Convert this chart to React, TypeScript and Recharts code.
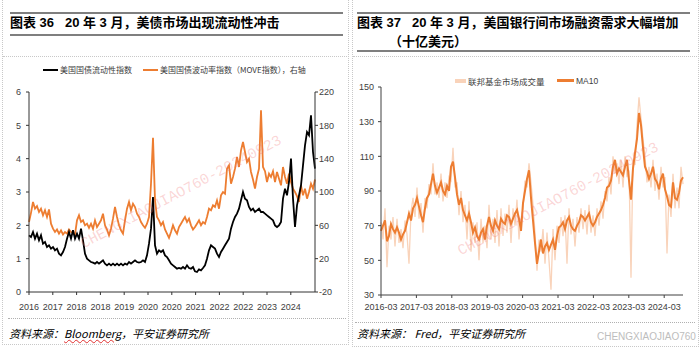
import { LineChart, Line, XAxis, YAxis } from 'recharts'

// 图表36：美国国债流动性指数（左轴）与 MOVE 指数（右轴）
const LIQ = [
  1.7, 1.65, 1.8, 1.6, 1.75, 1.55, 1.7, 1.45, 1.5, 1.35,
  1.4, 1.3, 1.35, 1.25, 1.3, 1.15, 1.1, 1.2, 1.35, 1.6,
  1.8, 1.6, 1.85, 1.6, 1.75, 1.6, 1.9, 1.55, 1.15, 1.0,
  0.95, 0.9, 0.88, 0.85, 0.9, 0.85, 0.9, 0.95, 0.85, 0.8,
  0.85, 0.8, 0.85, 0.8, 0.85, 0.8, 0.85, 0.8, 0.85, 0.82,
  0.9, 0.85, 0.9, 0.95, 0.9, 0.88, 0.9, 0.95, 0.9, 1.1,
  1.45, 1.9, 2.85, 1.4, 1.15, 1.25, 1.2, 1.25, 1.1, 1.05,
  0.95, 0.85, 0.8, 0.75, 0.7, 0.72, 0.7, 0.75, 0.7, 0.8,
  0.72, 0.7, 0.75, 0.62, 0.6, 0.68, 0.65, 0.72, 0.8, 1.0,
  1.25, 1.4, 1.35, 1.3, 1.15, 1.05, 1.2, 1.3, 1.4, 1.5,
  1.6, 1.9, 2.1, 2.25, 2.35, 2.5, 2.75, 3.0, 2.8, 2.75,
  2.55, 2.45, 2.5, 2.4, 2.45, 2.5, 2.4, 2.4, 2.35, 2.3,
  2.25, 2.2, 2.15, 2.0, 1.95, 2.0, 2.1, 2.8, 3.1, 2.9,
  3.3, 4.0, 2.8, 1.95, 2.6, 2.9, 3.2, 3.8, 4.4, 4.8,
  4.7, 5.3, 4.2, 3.7,
]
const MOVE = [
  64, 75, 88, 80, 83, 76, 80, 72, 78, 70,
  79, 62, 56, 52, 55, 50, 54, 49, 52, 50,
  55, 52, 51, 49, 66, 72, 64, 66, 60, 62,
  57, 62, 56, 66, 58, 62, 66, 74, 60, 55,
  48, 56, 68, 82, 70, 60, 54, 50, 66, 80,
  88, 78, 86, 82, 74, 70, 64, 60, 57, 62,
  70, 110, 165, 90, 70, 66, 60, 64, 55, 50,
  45, 52, 60, 54, 50, 58, 62, 66, 70, 64,
  68, 60, 55, 58, 62, 66, 60, 64, 62, 70,
  80, 78, 84, 82, 90, 80, 96, 100, 98, 128,
  132, 110, 118, 128, 142, 130, 150, 160, 148, 136,
  140, 124, 115, 104, 118, 128, 198, 130, 125, 112,
  122, 118, 125, 112, 124, 116, 108, 130, 118, 110,
  122, 112, 104, 100, 95, 88, 108, 96, 104, 92,
  100, 110, 104, 115,
]
const LEFT_TICK_LABELS = ['2016', '2017', '2018', '2018', '2019', '2020', '2020', '2021', '2022', '2022', '2023', '2024']
const LEFT_TICK_STEP = 11.9

// 图表37：联邦基金市场成交量（十亿美元）及 MA10
const FF_VOLUME = [
  72, 62, 80, 46, 70, 62, 75, 58, 74, 60,
  68, 57, 73, 65, 48, 78, 86, 75, 92, 74,
  83, 66, 86, 80, 94, 88, 106, 88, 95, 86,
  100, 84, 95, 86, 98, 96, 115, 92, 95, 76,
  90, 72, 82, 62, 84, 55, 72, 60, 72, 50,
  74, 60, 70, 57, 82, 62, 74, 60, 79, 58,
  80, 64, 77, 66, 82, 60, 80, 70, 85, 62,
  74, 80, 96, 92, 106, 95, 82, 66, 44, 62,
  55, 68, 48, 66, 50, 33, 68, 50, 70, 60,
  75, 64, 76, 48, 80, 65, 74, 58, 75, 66,
  80, 68, 79, 65, 82, 66, 76, 64, 80, 70,
  84, 74, 90, 84, 98, 88, 110, 100, 106, 94,
  108, 92, 110, 98, 102, 40, 108, 105, 128, 144,
  132, 120, 110, 95, 104, 92, 108, 90, 100, 85,
  104, 92, 98, 54, 88, 75, 100, 80, 92, 80,
  104, 94,
]
const FF_MA10 = [
  67, 70, 73, 61, 64, 71, 68, 66, 69, 66,
  62, 65, 67, 72, 77, 73, 80, 82, 86, 81,
  76, 72, 80, 86, 88, 94, 100, 93, 89, 92,
  95, 90, 88, 93, 90, 104, 107, 98, 88, 82,
  86, 79, 76, 73, 77, 72, 66, 69, 64, 62,
  66, 68, 62, 70, 75, 70, 67, 73, 70, 68,
  74, 72, 71, 76, 75, 71, 74, 77, 79, 74,
  67, 83, 90, 97, 102, 86, 73, 60, 48, 55,
  62, 54, 58, 60, 56, 59, 62, 56, 64, 69,
  70, 72, 68, 73, 75, 70, 68, 67, 70, 72,
  76, 75, 73, 75, 77, 72, 70, 72, 75, 77,
  79, 82, 86, 92, 93, 96, 104, 108, 100, 103,
  101, 99, 104, 108, 96, 85, 103, 112, 120, 135,
  128, 115, 104, 101, 97, 100, 104, 97, 95, 91,
  97, 100, 91, 87, 82, 81, 95, 86, 85, 89,
  96, 98,
]
const RIGHT_TICK_LABELS = ['2016-03', '2017-03', '2018-03', '2019-03', '2020-03', '2021-03', '2022-03', '2023-03', '2024-03']
const RIGHT_TICK_STEP = 17.7

const ORANGE = '#ED7D31'
const PEACH = '#F9D3BA'
const FONT = "'Liberation Sans', 'Noto Sans CJK SC', sans-serif"
const CJK = "'Noto Sans CJK SC', 'Liberation Sans', sans-serif"
const MARK = "'Liberation Mono', monospace"

const leftData = LIQ.map((v, i) => ({ i, liq: v, move: MOVE[i] }))
const rightData = FF_VOLUME.map((v, i) => ({ i, vol: v, ma: FF_MA10[i] }))

const tickStyle = { fontSize: 9, fill: '#404040', fontFamily: FONT }

function Watermark({ x, y, text }: { x: number; y: number; text: string }) {
  return (
    <div
      style={{
        position: 'absolute', left: x, top: y, fontFamily: MARK, fontSize: 15,
        color: 'rgba(240,110,110,0.28)', transform: 'rotate(-28deg)', transformOrigin: '0 0',
        whiteSpace: 'nowrap', pointerEvents: 'none',
      }}
    >
      {text}
    </div>
  )
}

export default function App() {
  const abs = { position: 'absolute' as const }
  return (
    <div style={{ position: 'fixed', left: 0, top: 0, width: 700, height: 351, background: '#fff', overflow: 'hidden' }}>
      {/* 边框 */}
      <div style={{ ...abs, left: 2, top: -2, width: 345, height: 345, border: '1px dotted #c8c8c8' }} />
      <div style={{ ...abs, left: 352, top: -2, width: 345, height: 347, border: '1px dotted #c8c8c8' }} />
      <div style={{ ...abs, left: 3, top: 56, width: 344, borderTop: '1px dotted #c8c8c8' }} />
      <div style={{ ...abs, left: 353, top: 56, width: 344, borderTop: '1px dotted #c8c8c8' }} />
      <div style={{ ...abs, left: 8, top: 318, width: 338, borderTop: '1px dotted #b0b0b0' }} />
      <div style={{ ...abs, left: 355, top: 322, width: 340, borderTop: '1px dotted #b0b0b0' }} />

      {/* 标题 */}
      <div style={{ ...abs, left: 10, top: 12, width: 333, height: 20, borderTop: '2px solid #7f7f7f', borderBottom: '2px solid #7f7f7f' }} />
      <div style={{ ...abs, left: 10, top: 15, fontFamily: FONT, fontWeight: 'bold', fontSize: 13, lineHeight: '16px', whiteSpace: 'pre', color: '#000' }}>
        图表 36   20 年 3 月，美债市场出现流动性冲击
      </div>
      <div style={{ ...abs, left: 357, top: 12, width: 333, height: 36, borderTop: '2px solid #7f7f7f', borderBottom: '2px solid #7f7f7f' }} />
      <div style={{ ...abs, left: 357, top: 15, fontFamily: FONT, fontWeight: 'bold', fontSize: 13, lineHeight: '16px', whiteSpace: 'pre', color: '#000' }}>
        图表 37   20 年 3 月，美国银行间市场融资需求大幅增加
      </div>
      <div style={{ ...abs, left: 389, top: 34, fontFamily: FONT, fontWeight: 'bold', fontSize: 13, lineHeight: '16px', whiteSpace: 'pre', color: '#000' }}>
        （十亿美元）
      </div>

      {/* 图例 */}
      <div style={{ ...abs, left: 43, top: 69, width: 15, height: 2, background: '#000' }} />
      <div style={{ ...abs, left: 60, top: 64, fontFamily: CJK, fontSize: 8, lineHeight: '12px', color: '#404040', whiteSpace: 'nowrap' }}>美国国债流动性指数</div>
      <div style={{ ...abs, left: 143, top: 69, width: 15, height: 2, background: ORANGE }} />
      <div style={{ ...abs, left: 160, top: 64, fontFamily: CJK, fontSize: 8, lineHeight: '12px', color: '#404040', whiteSpace: 'nowrap' }}>美国国债波动率指数（MOVE指数），右轴</div>

      <div style={{ ...abs, left: 455, top: 79, width: 11, height: 4, background: PEACH }} />
      <div style={{ ...abs, left: 468, top: 75, fontFamily: CJK, fontSize: 8.5, lineHeight: '12px', color: '#404040', whiteSpace: 'nowrap' }}>联邦基金市场成交量</div>
      <div style={{ ...abs, left: 557, top: 79, width: 17, height: 3, background: ORANGE }} />
      <div style={{ ...abs, left: 576, top: 75, fontFamily: FONT, fontSize: 8.5, lineHeight: '12px', color: '#404040', whiteSpace: 'nowrap' }}>MA10</div>

      {/* 左图 */}
      <div style={{ ...abs, left: 0, top: 80 }}>
        <LineChart width={346} height={240} data={leftData} margin={{ top: 12, right: 0, left: 0, bottom: 8 }}>
          <XAxis
            dataKey="i" type="number" domain={[0, LIQ.length - 1]}
            ticks={LEFT_TICK_LABELS.map((_, k) => k * LEFT_TICK_STEP)}
            tickFormatter={(v: number) => LEFT_TICK_LABELS[Math.round(v / LEFT_TICK_STEP)]}
            tick={tickStyle} tickSize={3} tickMargin={9} height={20}
            axisLine={{ stroke: '#333' }} tickLine={{ stroke: '#333' }} interval={0}
          />
          <YAxis
            yAxisId="l" domain={[0, 6]} ticks={[0, 1, 2, 3, 4, 5, 6]} width={29}
            tick={tickStyle} tickSize={3} tickMargin={5}
            axisLine={{ stroke: '#333' }} tickLine={{ stroke: '#333' }}
          />
          <YAxis
            yAxisId="r" orientation="right" domain={[-20, 220]} ticks={[-20, 20, 60, 100, 140, 180, 220]} width={31}
            tick={tickStyle} tickSize={3} tickMargin={1}
            axisLine={{ stroke: '#333' }} tickLine={{ stroke: '#333' }}
          />
          <Line yAxisId="r" dataKey="move" stroke={ORANGE} strokeWidth={1.8} dot={false} isAnimationActive={false} />
          <Line yAxisId="l" dataKey="liq" stroke="#000" strokeWidth={1.8} dot={false} isAnimationActive={false} />
        </LineChart>
      </div>

      {/* 右图 */}
      <div style={{ ...abs, left: 350, top: 75 }}>
        <LineChart width={340} height={247} data={rightData} margin={{ top: 12, right: 7, left: 0, bottom: 5 }}>
          <XAxis
            dataKey="i" type="number" domain={[0, FF_VOLUME.length - 1]}
            ticks={RIGHT_TICK_LABELS.map((_, k) => k * RIGHT_TICK_STEP)}
            tickFormatter={(v: number) => RIGHT_TICK_LABELS[Math.round(v / RIGHT_TICK_STEP)]}
            tick={tickStyle} tickSize={3} tickMargin={6} height={22}
            axisLine={{ stroke: '#404040' }} tickLine={{ stroke: '#404040' }} interval={0}
          />
          <YAxis
            domain={[30, 150]} ticks={[30, 50, 70, 90, 110, 130, 150]} width={31}
            tick={tickStyle} tickSize={3} tickMargin={4}
            axisLine={{ stroke: '#404040' }} tickLine={{ stroke: '#404040' }}
          />
          <Line dataKey="vol" stroke={PEACH} strokeWidth={1.3} dot={false} isAnimationActive={false} />
          <Line dataKey="ma" stroke={ORANGE} strokeWidth={2} dot={false} isAnimationActive={false} />
        </LineChart>
      </div>

      {/* 资料来源 */}
      <div style={{ ...abs, left: 9, top: 326, fontFamily: CJK, fontStyle: 'italic', fontSize: 11, lineHeight: '14px', color: '#000', whiteSpace: 'nowrap' }}>
        资料来源：<span style={{ textDecoration: 'underline wavy #e03030', textDecorationThickness: 1 }}>Bloomberg</span>，平安证券研究所
      </div>
      <div style={{ ...abs, left: 357, top: 326, fontFamily: CJK, fontStyle: 'italic', fontSize: 11, lineHeight: '14px', color: '#000', whiteSpace: 'pre' }}>
        资料来源： Fred，平安证券研究所
      </div>
      <div style={{ ...abs, left: 597, top: 331, fontFamily: FONT, fontSize: 10, lineHeight: '12px', color: '#bdbdbd', whiteSpace: 'nowrap' }}>
        CHENGXIAOJIAO760
      </div>

      {/* 水印 */}
      <Watermark x={78} y={238} text="CHENGXIAOJIAO760-20240923" />
      <Watermark x={455} y={245} text="CHENGXIAOJIAO760-20240923" />
    </div>
  )
}
